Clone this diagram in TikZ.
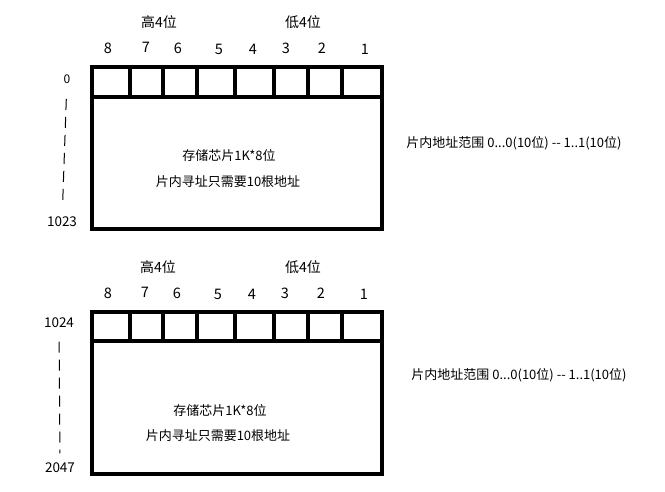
\documentclass[tikz,border=0pt]{standalone}
\usepackage{fontspec}
\setmainfont{Noto Sans CJK SC}
\usetikzlibrary{positioning}

\begin{document}
\begin{tikzpicture}[
  x=1pt, y=-1pt,
  chip/.style={draw=black, line width=4.5pt},
  bitno/.style={font=\fontsize{14.5}{16}\selectfont},
  half/.style={font=\fontsize{14}{16}\selectfont},
  addr/.style={font=\fontsize{13.5}{15}\selectfont},
  note/.style={font=\fontsize{13}{15}\selectfont},
  addrline/.style={dash pattern=on 11pt off 7pt, line width=1pt}
]
\useasboundingbox (0,0) rectangle (665,491);
% chip 1
\draw[chip] (92,67) rectangle (382,229);
\draw[chip] (92,97) -- (382,97);
\foreach \x in {130,163,197,235,274,308,342} \draw[chip] (\x,67) -- (\x,97);
\node[half] (hi1) at (159,22) {高4位};
\node[half] (lo1) at (303,22) {低4位};
\node[bitno] (b18) at (108,48) {8};
\node[bitno] (b17) at (146,47) {7};
\node[bitno] (b16) at (178,48) {6};
\node[bitno] (b15) at (219,49) {5};
\node[bitno] (b14) at (253,49) {4};
\node[bitno] (b13) at (286,48) {3};
\node[bitno] (b12) at (322,48) {2};
\node[bitno] (b11) at (365,49) {1};
\node[addr, font=\fontsize{12}{14}\selectfont] (a0) at (67,79) {0};
\node[addr] (a1023) at (62,222) {1023};
\draw[addrline, shorten <=12pt, shorten >=7pt] (a0) -- (a1023);
\node[note] (size1) at (229,156) {存储芯片1K*8位};
\node[note] (lines1) at (228,182) {片内寻址只需要10根地址};
\node[note] (span1) at (514,143) {片内地址范围 0...0(10位) {-}{-} 1..1(10位)};
% chip 2
\draw[chip] (92,312) rectangle (382,474);
\draw[chip] (92,341) -- (382,341);
\foreach \x in {130,163,197,235,274,308,342} \draw[chip] (\x,312) -- (\x,341);
\node[half] (hi2) at (158,267) {高4位};
\node[half] (lo2) at (303,267) {低4位};
\node[bitno] (b28) at (108,293) {8};
\node[bitno] (b27) at (145,292) {7};
\node[bitno] (b26) at (177,293) {6};
\node[bitno] (b25) at (218,294) {5};
\node[bitno] (b24) at (252,294) {4};
\node[bitno] (b23) at (285,293) {3};
\node[bitno] (b22) at (321,293) {2};
\node[bitno] (b21) at (364,294) {1};
\node[addr] (a1024) at (59,323) {1024};
\node[addr] (a2047) at (60,468) {2047};
\draw[addrline, shorten <=10pt, shorten >=6pt] (a1024) -- (a2047);
\node[note] (size2) at (220,411) {存储芯片1K*8位};
\node[note] (lines2) at (218,436) {片内寻址只需要10根地址};
\node[note] (span2) at (519,375) {片内地址范围 0...0(10位) {-}{-} 1..1(10位)};
\end{tikzpicture}
\end{document}
